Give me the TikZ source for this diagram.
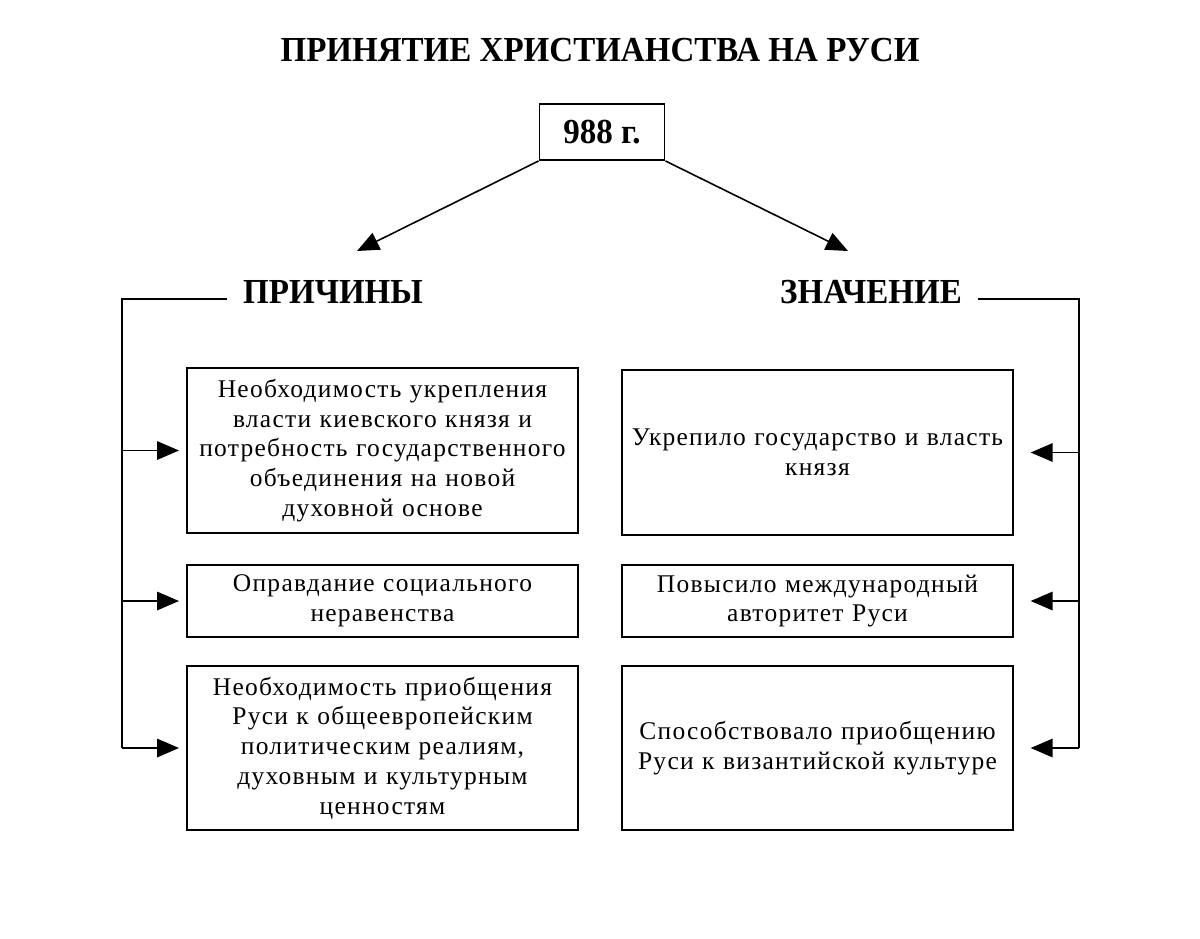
\documentclass[tikz,border=0pt]{standalone}
\usepackage{fontspec}
\setmainfont{Liberation Serif}
\newfontfamily\headfont[FakeStretch=0.94]{Liberation Serif}
\newfontfamily\boxfont[LetterSpace=5]{Liberation Serif}
\usetikzlibrary{arrows.meta}

\tikzset{
  headtext/.style={font=\headfont\bfseries\fontsize{20}{24}\selectfont, inner xsep=9pt},
  reasonbox/.style={draw, line width=1.1pt, minimum width=7.82cm, text width=7.7cm, inner xsep=0pt,
    align=center, font=\boxfont\fontsize{14.5}{16.9}\selectfont},
  link/.style={line width=0.9pt},
  arrowlink/.style={line width=0.9pt, -{Triangle[length=12.5pt,width=10.5pt]}}
}

\begin{document}
\begin{tikzpicture}[x=0.02cm,y=-0.02cm]
\useasboundingbox (0,0) rectangle (1200,938);
\node[headtext] (title) at (600,50) {ПРИНЯТИЕ ХРИСТИАНСТВА НА РУСИ};
\node[headtext, draw, line width=1.1pt, minimum width=2.5cm, minimum height=1.12cm] (year) at (602,132) {988 г.};
\coordinate (ltip) at (357,251);
\coordinate (rtip) at (848,251);
\draw[arrowlink] (year.south west) -- (ltip);
\draw[arrowlink] (year.south east) -- (rtip);

\node[headtext] (reasons) at (333,292) {ПРИЧИНЫ};
\node[headtext] (meaning) at (871,292) {ЗНАЧЕНИЕ};

\node[reasonbox, minimum height=3.3cm] (r1) at (382.5,450.5) {Необходимость укрепления\\ власти киевского князя и\\ потребность государственного\\ объединения на новой\\ духовной основе};
\node[reasonbox, minimum height=1.44cm] (r2) at (382.5,601) {Оправдание социального\\ неравенства};
\node[reasonbox, minimum height=3.28cm] (r3) at (382.5,748) {Необходимость приобщения\\ Руси к общеевропейским\\ политическим реалиям,\\ духовным и культурным\\ ценностям};

\node[reasonbox, minimum height=3.3cm] (m1) at (817.5,452.5) {Укрепило государство и власть\\ князя};
\node[reasonbox, minimum height=1.44cm] (m2) at (817.5,601) {Повысило международный\\ авторитет Руси};
\node[reasonbox, minimum height=3.28cm] (m3) at (817.5,748) {Способствовало приобщению\\ Руси к византийской культуре};

\coordinate (ltop) at (122,299);
\coordinate (lbot) at (122,748);
\coordinate (rtop) at (1079,299);
\coordinate (rbot) at (1079,748);
\draw[link] (ltop -| reasons.west) -- (ltop) -- (lbot);
\draw[link] (rtop -| meaning.east) -- (rtop) -- (rbot);

\draw[arrowlink, shorten >=4pt] (ltop |- r1.west) -- (r1.west);
\draw[arrowlink, shorten >=4pt] (ltop |- r2.west) -- (r2.west);
\draw[arrowlink, shorten >=4pt] (lbot) -- (r3.west);
\draw[arrowlink, shorten >=9.5pt] (rtop |- m1.east) -- (m1.east);
\draw[arrowlink, shorten >=9.5pt] (rtop |- m2.east) -- (m2.east);
\draw[arrowlink, shorten >=9.5pt] (rbot) -- (m3.east);
\end{tikzpicture}
\end{document}
